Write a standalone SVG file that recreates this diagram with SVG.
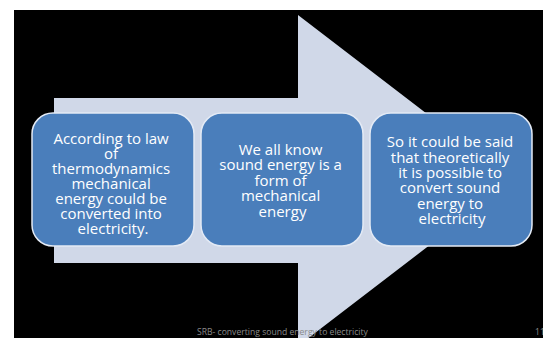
<svg xmlns="http://www.w3.org/2000/svg" width="543" height="338" viewBox="0 0 543 338">
  <style>
    .box { fill: #4a7ebb; stroke: #e3eaf5; stroke-width: 1.5; }
    .txt { font-family: "Open Sans", "Liberation Sans", sans-serif; font-size: 15px; fill: #ffffff; text-anchor: middle; }
    .foot { font-family: "Open Sans", "Liberation Sans", sans-serif; font-size: 8.6px; fill: #8a8a8a; }
  </style>
  <rect x="0" y="0" width="543" height="338" fill="#ffffff"/>
  <rect x="14" y="10" width="529" height="328" fill="#000000"/>
  <g id="arrow-background">
    <polygon points="54,98 298,98 298,15 514,180.5 298,346 298,263 54,263" fill="#d0d8e8"/>
  </g>
  <g id="node-1">
    <rect class="box" x="32" y="113" width="162" height="133" rx="21" ry="21"/>
    <text class="txt">
      <tspan x="113" y="143.6">According to law</tspan>
      <tspan x="113" y="158.6">of</tspan>
      <tspan x="113" y="173.6">thermodynamics</tspan>
      <tspan x="113" y="188.6">mechanical</tspan>
      <tspan x="113" y="203.6">energy could be</tspan>
      <tspan x="113" y="218.6">converted into</tspan>
      <tspan x="113" y="233.6">electricity.</tspan>
    </text>
  </g>
  <g id="node-2">
    <rect class="box" x="201" y="113" width="162" height="133" rx="21" ry="21"/>
    <text class="txt">
      <tspan x="282.5" y="154.5">We all know</tspan>
      <tspan x="282.5" y="170">sound energy is a</tspan>
      <tspan x="282.5" y="185.6">form of</tspan>
      <tspan x="282.5" y="201.2">mechanical</tspan>
      <tspan x="282.5" y="216.8">energy</tspan>
    </text>
  </g>
  <g id="node-3">
    <rect class="box" x="370" y="113" width="162" height="133" rx="21" ry="21"/>
    <text class="txt">
      <tspan x="452" y="147">So it could be said</tspan>
      <tspan x="452" y="162.5">that theoretically</tspan>
      <tspan x="452" y="178">it is possible to</tspan>
      <tspan x="452" y="193.4">convert sound</tspan>
      <tspan x="452" y="208.9">energy to</tspan>
      <tspan x="452" y="224.3">electricity</tspan>
    </text>
  </g>
  <g id="footer">
    <text class="foot" x="197" y="334.5">SRB- converting sound energy to electricity</text>
    <text class="foot" x="535" y="334.5">11</text>
  </g>
</svg>
